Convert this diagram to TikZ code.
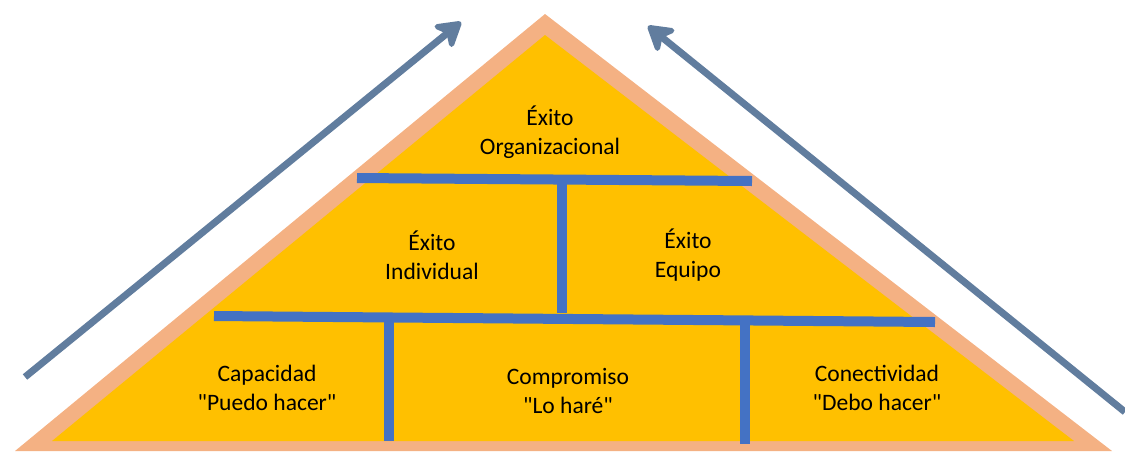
\documentclass[tikz,border=0pt]{standalone}
\usepackage{fontspec}
\setmainfont{Carlito}
\usetikzlibrary{arrows.meta}

\definecolor{salmon}{RGB}{244,177,131}
\definecolor{gold}{RGB}{255,192,0}
\definecolor{barblue}{RGB}{68,114,196}
\definecolor{slate}{RGB}{97,125,158}
\newcommand{\qq}[1]{\textquotedbl#1\textquotedbl}

\begin{document}
\begin{tikzpicture}[x=0.02cm,y=-0.02cm,
  level/.style={align=center,font=\fontsize{13.4}{16.6}\selectfont,inner sep=0pt},
  bar/.style={barblue,line width=0.2cm},
  trend/.style={slate,line width=0.14cm,-{Stealth[length=0.6cm,width=0.72cm,inset=0.18cm,round]}}]
\useasboundingbox (0,0) rectangle (1125,451);

% pyramid
\fill[salmon] (15,451) -- (545,14) -- (1112,451) -- cycle;
\fill[gold] (52,441) -- (545,35) -- (1074,441) -- cycle;

% bars
\draw[bar] (357,178) -- (752,181);
\draw[bar] (562,183) -- (562,313);
\draw[bar] (214,316) -- (935,322);
\draw[bar] (389,321) -- (389,441);
\draw[bar] (745,324) -- (745,444);

% labels
\node[level] (org) at (550,132) {Éxito\\Organizacional};
\node[level] (ind) at (432,255) {Éxito\\Individual};
\node[level] (equ) at (688,255) {Éxito\\Equipo};
\node[level] (cap) at (267,388) {Capacidad\\\qq{Puedo hacer}};
\node[level] (com) at (568,391) {Compromiso\\\qq{Lo haré}};
\node[level] (con) at (877,388) {Conectividad\\\qq{Debo hacer}};

% arrows
\coordinate (lfrom) at (25,377);
\coordinate (lto) at (461,22);
\coordinate (rfrom) at (1125,412);
\coordinate (rto) at (648,26);
\draw[trend] (lfrom) -- (lto);
\draw[trend] (rfrom) -- (rto);
\end{tikzpicture}
\end{document}
